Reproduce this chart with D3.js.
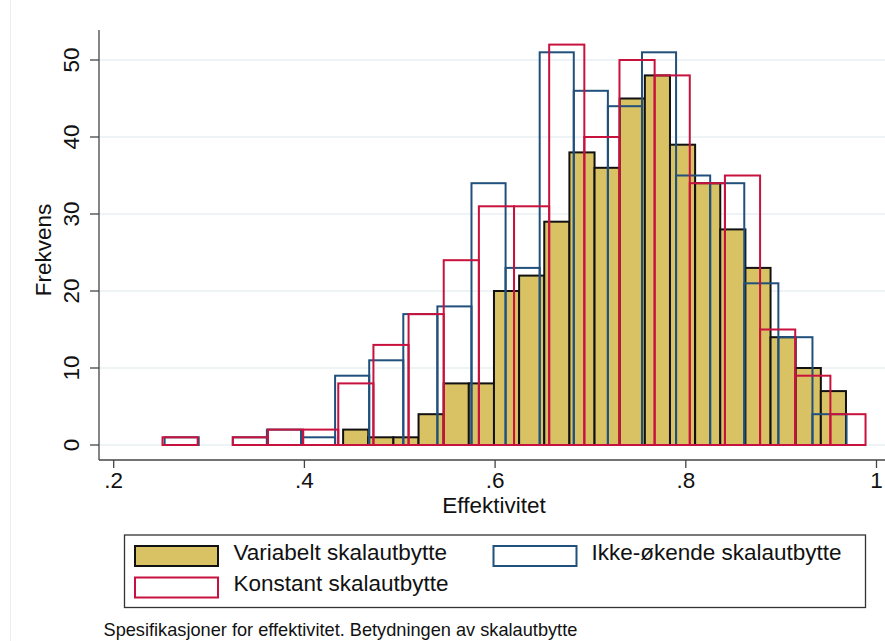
<!DOCTYPE html>
<html>
<head>
<meta charset="utf-8">
<script src="https://cdn.jsdelivr.net/npm/d3@7"></script>
<style>
  html, body { margin: 0; padding: 0; background: #ffffff; }
  svg { display: block; font-family: "Liberation Sans", Arial, Helvetica, sans-serif; }
</style>
</head>
<body>
<svg id="chart" width="885" height="641"></svg>
<script>
// Frequency counts per bin (20 equal-width bins each) and the bin range of each specification
const variabeltCounts = [2, 1, 1, 4, 8, 8, 20, 22, 29, 38, 36, 45, 48, 39, 34, 28, 23, 14, 10, 7];
const variabeltRange = [0.4406, 0.9680];

const ikkeOkendeCounts = [1, 0, 1, 2, 1, 9, 11, 17, 18, 34, 23, 51, 46, 44, 51, 35, 34, 21, 14, 4];
const ikkeOkendeRange = [0.2534, 0.9686];

const konstantCounts = [1, 0, 1, 2, 2, 8, 13, 17, 24, 31, 31, 52, 40, 50, 48, 34, 35, 15, 9, 4];
const konstantRange = [0.2512, 0.9885];

const xTicks = [0.2, 0.4, 0.6, 0.8, 1];
const xTickLabels = [".2", ".4", ".6", ".8", "1"];
const yTicks = [0, 10, 20, 30, 40, 50];

const seriesNames = ["Variabelt skalautbytte", "Ikke-økende skalautbytte", "Konstant skalautbytte"];
const xTitle = "Effektivitet";
const yTitle = "Frekvens";
const noteText = "Spesifikasjoner for effektivitet. Betydningen av skalautbytte";

const svg = d3.select("#chart");

const x = d3.scaleLinear().domain([0.2, 1]).range([113.7, 876.5]);
const y = d3.scaleLinear().domain([0, 50]).range([445, 60]);

const plotLeft = 99, plotRight = 885, plotTop = 30, axisY = 460;
const fontSize = 22.5;
const barStroke = 2;

// faint outer frame line on the left
svg.append("line")
  .attr("x1", 10.5).attr("x2", 10.5).attr("y1", 0).attr("y2", 641)
  .attr("stroke", "#ececec").attr("stroke-width", 1);

// horizontal gridlines
svg.append("g").selectAll("line").data(yTicks).join("line")
  .attr("x1", plotLeft).attr("x2", plotRight)
  .attr("y1", d => y(d)).attr("y2", d => y(d))
  .attr("stroke", "#e9f1f3").attr("stroke-width", 1.3);

// turn counts + range into bins
function makeBins(counts, range) {
  const w = (range[1] - range[0]) / counts.length;
  return counts.map((c, i) => ({ x0: range[0] + i * w, x1: range[0] + (i + 1) * w, n: c }));
}

function drawHist(counts, range, fill, stroke) {
  const bins = makeBins(counts, range).filter(b => b.n > 0);
  svg.append("g").selectAll("rect").data(bins).join("rect")
    .attr("x", d => x(d.x0))
    .attr("width", d => x(d.x1) - x(d.x0))
    .attr("y", d => y(d.n))
    .attr("height", d => y(0) - y(d.n))
    .attr("fill", fill)
    .attr("stroke", stroke)
    .attr("stroke-width", barStroke);
}

drawHist(variabeltCounts, variabeltRange, "#d8c264", "#111111");
drawHist(ikkeOkendeCounts, ikkeOkendeRange, "none", "#21507c");
drawHist(konstantCounts, konstantRange, "none", "#c8123e");

// axes
const axisColor = "#444444";
svg.append("line")
  .attr("x1", plotLeft).attr("x2", plotLeft).attr("y1", plotTop).attr("y2", axisY)
  .attr("stroke", axisColor).attr("stroke-width", 1.3);
svg.append("line")
  .attr("x1", plotLeft).attr("x2", plotRight).attr("y1", axisY).attr("y2", axisY)
  .attr("stroke", axisColor).attr("stroke-width", 1.3);

// y ticks + rotated labels
const yAxisG = svg.append("g");
yAxisG.selectAll("line").data(yTicks).join("line")
  .attr("x1", 90).attr("x2", plotLeft)
  .attr("y1", d => y(d)).attr("y2", d => y(d))
  .attr("stroke", axisColor).attr("stroke-width", 1.3);
yAxisG.selectAll("text").data(yTicks).join("text")
  .attr("transform", d => `translate(78.5,${y(d)}) rotate(-90)`)
  .attr("text-anchor", "middle")
  .attr("font-size", fontSize)
  .attr("fill", "#111")
  .text(d => d);

// x ticks + labels
const xAxisG = svg.append("g");
xAxisG.selectAll("line").data(xTicks).join("line")
  .attr("x1", d => x(d)).attr("x2", d => x(d))
  .attr("y1", axisY).attr("y2", 468)
  .attr("stroke", axisColor).attr("stroke-width", 1.3);
xAxisG.selectAll("text").data(xTicks).join("text")
  .attr("x", d => x(d)).attr("y", 488)
  .attr("text-anchor", "middle")
  .attr("font-size", fontSize)
  .attr("fill", "#111")
  .text((d, i) => xTickLabels[i]);

// axis titles
svg.append("text")
  .attr("x", 494).attr("y", 512.5)
  .attr("text-anchor", "middle").attr("font-size", fontSize).attr("fill", "#111")
  .text(xTitle);
svg.append("text")
  .attr("transform", "translate(51,250) rotate(-90)")
  .attr("text-anchor", "middle").attr("font-size", fontSize).attr("fill", "#111")
  .text(yTitle);

// legend
const legend = svg.append("g");
legend.append("rect")
  .attr("x", 124.5).attr("y", 535).attr("width", 741).attr("height", 72.5)
  .attr("fill", "#fff").attr("stroke", "#333").attr("stroke-width", 1.3);

const legendItems = [
  { name: seriesNames[0], fill: "#d8c264", stroke: "#111111", kx: 134, ky: 545, tx: 233.5, ty: 560 },
  { name: seriesNames[1], fill: "#fff", stroke: "#21507c", kx: 492.5, ky: 545, tx: 591.5, ty: 560 },
  { name: seriesNames[2], fill: "#fff", stroke: "#c8123e", kx: 134, ky: 576.5, tx: 233.5, ty: 591 }
];
const li = legend.selectAll("g.item").data(legendItems).join("g").attr("class", "item");
li.append("rect")
  .attr("x", d => d.kx + 1).attr("y", d => d.ky + 1)
  .attr("width", 83).attr("height", 20)
  .attr("fill", d => d.fill).attr("stroke", d => d.stroke).attr("stroke-width", barStroke);
li.append("text")
  .attr("x", d => d.tx).attr("y", d => d.ty)
  .attr("font-size", fontSize).attr("fill", "#111")
  .text(d => d.name);

// note
svg.append("text")
  .attr("x", 103.5).attr("y", 636)
  .attr("font-size", 18.2).attr("fill", "#111")
  .text(noteText);
</script>
</body>
</html>
